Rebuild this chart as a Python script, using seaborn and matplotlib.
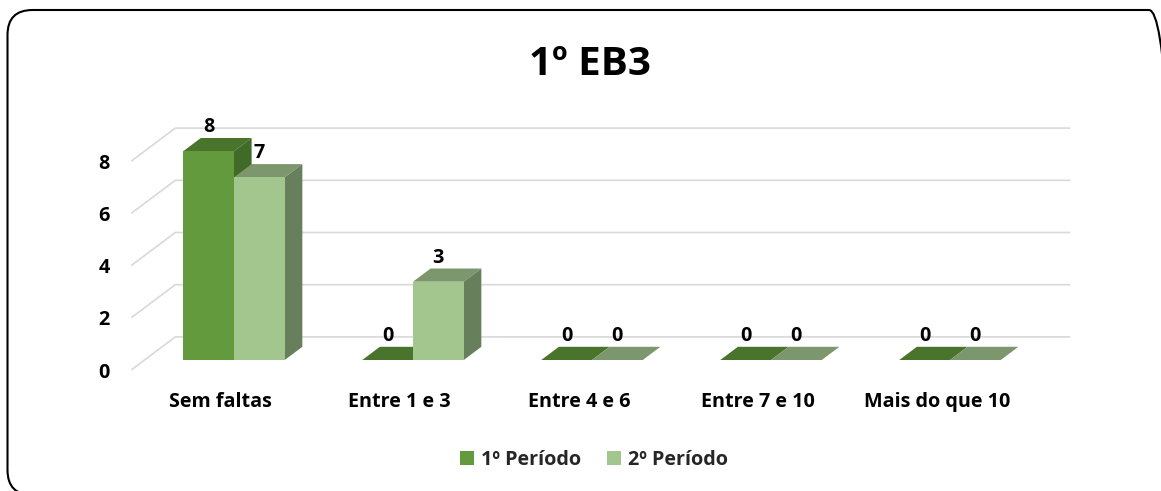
import numpy as np
import pandas as pd
import seaborn as sns
import matplotlib.pyplot as plt
from matplotlib.patches import Polygon, FancyBboxPatch
from matplotlib.transforms import IdentityTransform

# dados
categorias = ['Sem faltas', 'Entre 1 e 3', 'Entre 4 e 6', 'Entre 7 e 10', 'Mais do que 10']
periodo_1 = [8, 0, 0, 0, 0]
periodo_2 = [7, 3, 0, 0, 0]
series = ['1º Período', '2º Período']
y_ticks = [0, 2, 4, 6, 8]
titulo = '1º EB3'

# cores (frente, topo, lado) de cada série
cor_frente = ['#629A3D', '#A3C68F']
cor_topo = ['#4A742C', '#7C966D']
cor_lado = ['#3F6A27', '#687F5B']

W, H, DPI = 1161, 491, 100
PX_CAT = 179.0   # pixels por categoria
PX_UN = 26.1     # pixels por unidade
X0_PX, Y0_PX = 234.0, 360.0
# vetor de profundidade (chão inteiro) em unidades de dados
DX = 44.0 / PX_CAT
DY = 33.0 / PX_UN
F_FRENTE, F_FUNDO = 0.3, 0.7   # posição da face das barras na profundidade
FS = 14.2

sns.set_theme(style='white')
plt.rcParams['font.family'] = ['Open Sans', 'DejaVu Sans']
plt.rcParams['font.weight'] = 'bold'

df = pd.DataFrame({
    'categoria': categorias * 2,
    'faltas': periodo_1 + periodo_2,
    'periodo': [series[0]] * len(categorias) + [series[1]] * len(categorias),
})

fig = plt.figure(figsize=(W / DPI, H / DPI), dpi=DPI)
ax = fig.add_axes([0, 0, 1, 1])

sns.barplot(data=df, x='categoria', y='faltas', hue='periodo', palette=cor_frente,
            width=0.567, saturation=1, linewidth=0, ax=ax)

ax.set_xlim(-X0_PX / PX_CAT, (W - X0_PX) / PX_CAT)
ax.set_ylim((Y0_PX - H) / PX_UN, Y0_PX / PX_UN)
ax.axis('off')

# faces 3D das barras
ddx, ddy = (F_FUNDO - F_FRENTE) * DX, (F_FUNDO - F_FRENTE) * DY
for h, cont in enumerate(ax.containers):
    for rect in cont:
        rect.set_zorder(5 + 3 * h)
        x0, w, hv = rect.get_x(), rect.get_width(), rect.get_height()
        topo = Polygon([(x0, hv), (x0 + w, hv), (x0 + w + ddx, hv + ddy), (x0 + ddx, hv + ddy)],
                       closed=True, facecolor=cor_topo[h], edgecolor='none', zorder=4 + 3 * h)
        ax.add_patch(topo)
        if hv > 0:
            lado = Polygon([(x0 + w, 0), (x0 + w + ddx, ddy), (x0 + w + ddx, hv + ddy), (x0 + w, hv)],
                           closed=True, facecolor=cor_lado[h], edgecolor='none', zorder=4 + 3 * h)
            ax.add_patch(lado)
        ax.annotate(f'{hv:g}', (x0 + w / 2, hv), xytext=(0, 13.7), textcoords='offset points',
                    ha='center', va='baseline', fontsize=FS, fontweight='bold', color='black',
                    zorder=20)

# grelha (parede lateral + parede do fundo)
xl, xr = -0.5, len(categorias) - 0.5
for v in y_ticks:
    xs = [xl - F_FRENTE * DX, xl + F_FUNDO * DX, xr + F_FUNDO * DX]
    ys = [v - F_FRENTE * DY, v + F_FUNDO * DY, v + F_FUNDO * DY]
    ax.plot(xs, ys, color='#D9D9D9', lw=1.2, zorder=1, solid_capstyle='butt')
    ax.annotate(str(v), (xs[0], ys[0]), xytext=(-15.5, -5.5), textcoords='offset points',
                ha='right', va='baseline', fontsize=FS, fontweight='bold', color='black')

# rótulos das categorias
for i, c in enumerate(categorias):
    ax.annotate(c, (i - F_FRENTE * DX, -F_FRENTE * DY), xytext=(0, -26.5), textcoords='offset points',
                ha='center', va='baseline', fontsize=FS, fontweight='bold', color='black')

# título
fig.text(590 / W, 1 - 75 / H, titulo, ha='center', va='baseline', fontsize=29,
         fontweight='bold', color='black')

# legenda
handles, labels = ax.get_legend_handles_labels()
ax.get_legend().remove()
fig.legend(handles, labels, loc='center', bbox_to_anchor=(594 / W, 1 - 460 / H), ncol=2,
           frameon=False, fontsize=FS, handlelength=0.72, handleheight=0.72,
           handletextpad=0.35, columnspacing=1.3, borderpad=0)

# moldura arredondada
moldura = FancyBboxPatch((7.5 + 25, H - 495 + 25), 1174 - 7.5 - 50, 495 - 10 - 50,
                         boxstyle='round,pad=25', transform=IdentityTransform(),
                         facecolor='none', edgecolor='black', lw=1.5, zorder=30)
fig.patches.append(moldura)

fig.savefig('out.png', dpi=DPI)
